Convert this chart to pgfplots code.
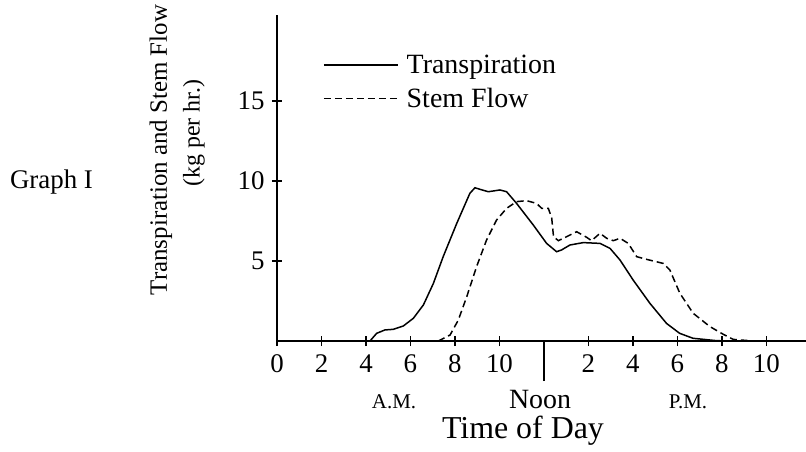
\documentclass[border=0pt]{standalone}
\usepackage{fontspec}
\setmainfont{Liberation Serif}
\usepackage{pgfplots}
\pgfplotsset{compat=1.18}
\begin{document}
\begin{tikzpicture}
\path[use as bounding box] (-277bp,-111bp) rectangle (529bp,341bp);
\begin{axis}[
  at={(0,0)}, anchor=origin,
  scale only axis, width=529bp, height=326.4bp,
  xmin=0, xmax=23.78, ymin=0, ymax=20.4,
  axis x line=bottom, axis y line=left,
  axis line style={-, line width=1.6bp},
  clip=false,
  xtick={0,2,4,6,8,10,14,16,18,20,22},
  xticklabels={0,2,4,6,8,10,2,4,6,8,10},
  ytick={5,10,15}, yticklabels={5,10,15},
  /pgf/number format/assume math mode=true,
  tick align=center, major tick length=10bp,
  tick style={line width=1.2bp, black},
  extra x ticks={12}, extra x tick labels={},
  extra x tick style={tick align=outside, major tick length=40bp, tick style={line width=1.6bp}},
  tick label style={font=\fontsize{27}{27}\selectfont},
  xticklabel style={yshift=-5bp},
  yticklabel style={xshift=-4bp},
  legend style={draw=none, fill=none, at={(axis cs:2.07,18.0)}, anchor=north west,
    inner sep=0pt, font=\fontsize{28}{28}\selectfont, row sep=9bp,
    /tikz/every odd column/.append style={column sep=6bp}},
  legend cell align=left,
  legend image code/.code={\draw[#1] (0bp,0bp) -- (74bp,0bp);},
]
\addplot[black, line width=1.5bp] coordinates {
(4.18,0) (4.48,0.48) (4.85,0.69) (5.23,0.73) (5.68,0.94) (6.13,1.42) (6.58,2.25) (7.03,3.6) (7.47,5.27) (8.08,7.35) (8.67,9.23) (8.9,9.58) (9.12,9.48) (9.5,9.33) (10.02,9.44) (10.32,9.33) (10.77,8.6) (11.52,7.25) (12.12,6.1) (12.57,5.58) (12.79,5.69) (13.17,6.0) (13.77,6.15) (14.52,6.1) (14.97,5.79) (15.42,5.06) (16.01,3.81) (16.76,2.36) (17.51,1.1) (18.1,0.48) (18.7,0.17) (19.76,0.02) (20.5,0)
};
\addlegendentry{Transpiration}
\addplot[black, line width=1.5bp, dash pattern=on 7bp off 4bp] coordinates {
(7.25,0) (7.78,0.375) (8.15,1.31) (8.53,2.77) (8.97,4.64) (9.42,6.31) (9.87,7.56) (10.32,8.29) (10.77,8.71) (11.22,8.77) (11.67,8.6) (11.9,8.29) (12.2,8.29) (12.35,7.67) (12.43,6.52) (12.65,6.27) (13.02,6.52) (13.47,6.83) (13.92,6.48) (14.14,6.27) (14.52,6.73) (14.82,6.42) (15.12,6.27) (15.42,6.42) (15.79,6.1) (16.17,5.27) (16.62,5.1) (17.36,4.85) (17.66,4.44) (18.11,2.98) (18.71,1.73) (19.46,0.9) (20.06,0.42) (20.51,0.1) (21.4,0)
};
\addlegendentry{Stem Flow}
\end{axis}
\node[anchor=base, font=\fontsize{27}{27}\selectfont] at (-225.5bp,152bp) {Graph I};
\node[rotate=90, font=\fontsize{25}{25}\selectfont] at (-116bp,191bp) {Transpiration and Stem Flow};
\node[rotate=90, font=\fontsize{24}{24}\selectfont] at (-83bp,208bp) {(kg per hr.)};
\node[anchor=base, font=\fontsize{21}{21}\selectfont] at (117bp,-67bp) {A.M.};
\node[anchor=base, font=\fontsize{28}{28}\selectfont] at (263bp,-67bp) {Noon};
\node[anchor=base, font=\fontsize{21}{21}\selectfont] at (411bp,-67bp) {P.M.};
\node[anchor=base, font=\fontsize{32}{32}\selectfont] at (246bp,-97bp) {Time of Day};
\end{tikzpicture}
\end{document}
